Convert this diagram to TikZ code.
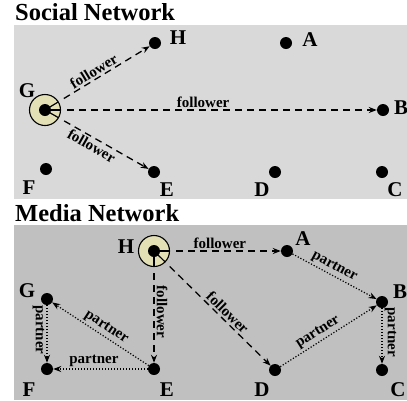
\documentclass[tikz,border=0pt]{standalone}
\usepackage{fontspec}
\setmainfont{Liberation Serif}
\usetikzlibrary{arrows.meta,calc}
\definecolor{ringfill}{HTML}{E3E0B5}
\definecolor{panelA}{HTML}{D9D9D9}
\definecolor{panelB}{HTML}{C0C0C0}
\begin{document}
\begin{tikzpicture}[x=1pt,y=-1pt,
 dot/.style={circle,fill=black,inner sep=0pt,minimum size=12pt},
 hub/.style={circle,draw=black,line width=1.1pt,fill=ringfill,inner sep=0pt,minimum size=31pt},
 nlab/.style={font=\fontsize{21}{23}\selectfont\bfseries,inner sep=0pt},
 elab/.style={font=\fontsize{15}{16}\selectfont\bfseries,inner sep=2pt},
 ttl/.style={font=\fontsize{24.5}{26}\selectfont\bfseries,inner sep=0pt,anchor=base west},
 follow/.style={line width=1.3pt,dash pattern=on 7pt off 5pt,-{Stealth[length=8pt,width=6pt]},shorten <=6pt},
 partner/.style={line width=1.2pt,dash pattern=on 1.2pt off 1.8pt,-{Stealth[length=8pt,width=6pt]}},
 spoke/.style={line width=1.2pt}]
\useasboundingbox (0,0) rectangle (407,400);
% panels
\fill[panelA] (14,25) rectangle (407,199);
\fill[panelB] (14,225) rectangle (407,400);
\node[ttl] (t1) at (15,20) {Social Network};
\node[ttl] (t2) at (15,221) {Media Network};

% ---------- Social network ----------
\node[hub] (sG) at (45,110) {};
\node[dot] (sGc) at (45,110) {};
\node[dot] (sH) at (155,43) {};
\node[dot] (sA) at (286,43) {};
\node[dot] (sB) at (383,110) {};
\node[dot] (sF) at (46,169) {};
\node[dot] (sE) at (154,172) {};
\node[dot] (sD) at (275,172) {};
\node[dot] (sC) at (382,172) {};
\node[nlab] (lsG) at (27,91) {G};
\node[nlab] (lsH) at (178,38) {H};
\node[nlab] (lsA) at (310,40) {A};
\node[nlab] (lsB) at (401,108) {B};
\node[nlab] (lsF) at (29,188) {F};
\node[nlab] (lsE) at (167,190) {E};
\node[nlab] (lsD) at (262,190) {D};
\node[nlab] (lsC) at (395,190) {C};
\draw[spoke] (sG.center) -- ($(sG.center)!15.5pt!(sH)$);
\draw[spoke] (sG.center) -- ($(sG.center)!15.5pt!(sB)$);
\draw[spoke] (sG.center) -- ($(sG.center)!15.5pt!(sE)$);
\draw[follow] (sG) -- node[elab,above,sloped,pos=0.43] {follower} (sH);
\draw[follow] (sG) -- node[elab,above,pos=0.45] {follower} (sB);
\draw[follow] (sG) -- node[elab,below,sloped,pos=0.41] {follower} (sE);

% ---------- Media network ----------
\node[hub] (mH) at (154,251) {};
\node[dot] (mHc) at (154,251) {};
\node[dot] (mA) at (287,251) {};
\node[dot] (mG) at (47,299) {};
\node[dot] (mB) at (382,302) {};
\node[dot] (mF) at (47,369) {};
\node[dot] (mE) at (154,369) {};
\node[dot] (mD) at (275,370) {};
\node[dot] (mC) at (382,370) {};
\node[nlab] (lmH) at (126,247) {H};
\node[nlab] (lmA) at (303,239) {A};
\node[nlab] (lmG) at (27,291) {G};
\node[nlab] (lmB) at (400,292) {B};
\node[nlab] (lmF) at (29,389.5) {F};
\node[nlab] (lmE) at (167,389.5) {E};
\node[nlab] (lmD) at (262,389.5) {D};
\node[nlab] (lmC) at (398,389.5) {C};
\draw[spoke] (mH.center) -- ($(mH.center)!16pt!(mA)$);
\draw[spoke] (mH.center) -- ($(mH.center)!16pt!(mE)$);
\draw[spoke] (mH.center) -- ($(mH.center)!16pt!(mD)$);
\draw[follow] (mH) -- node[elab,above,pos=0.45] {follower} (mA);
\draw[follow] (mH) -- node[elab,above,sloped,pos=0.47] {follower} (mE);
\draw[follow] (mH) -- node[elab,above,sloped,pos=0.54] {follower} (mD);
\draw[partner] (mA) -- node[elab,above,sloped,pos=0.45] {partner} (mB);
\draw[partner] (mB) -- node[elab,above,sloped,pos=0.43] {partner} (mC);
\draw[partner] (mD) -- node[elab,above,sloped,pos=0.44] {partner} (mB);
\draw[partner] (mE) -- node[elab,above,sloped,pos=0.49] {partner} (mG);
\draw[partner] (mE) -- node[elab,above,pos=0.57] {partner} (mF);
\draw[partner] (mG) -- node[elab,below,sloped,pos=0.43] {partner} (mF);
\end{tikzpicture}
\end{document}
